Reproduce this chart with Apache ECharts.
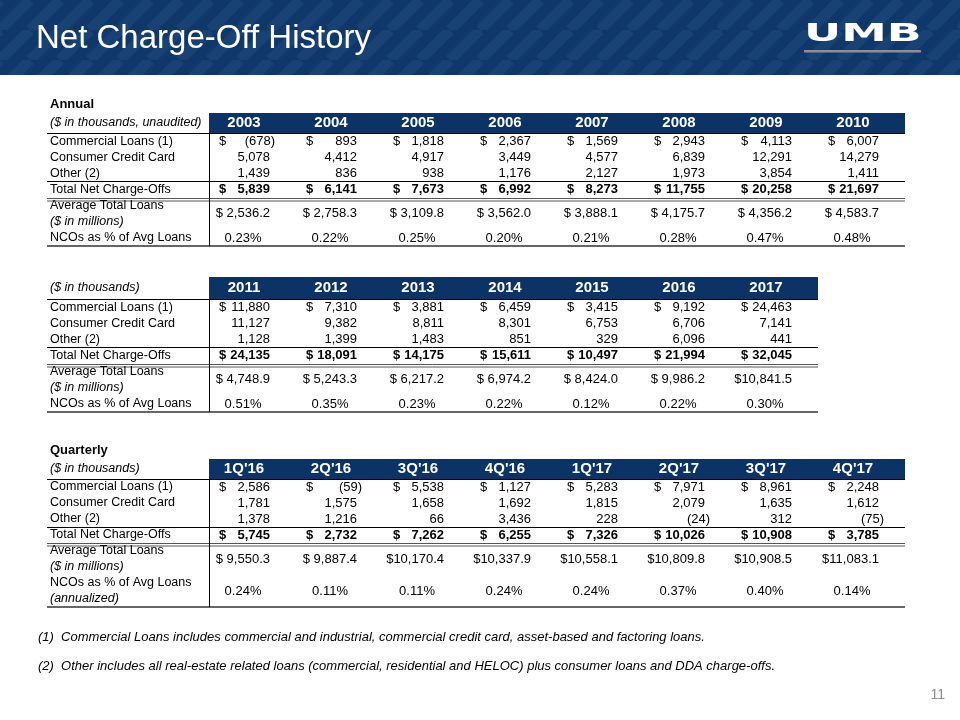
<!DOCTYPE html>
<html><head><meta charset="utf-8">
<script src="https://cdn.jsdelivr.net/npm/echarts@6/dist/echarts.min.js"></script>
<style>html,body{margin:0;padding:0;background:#fff}#c{width:960px;height:720px}</style>
</head><body><div id="c"></div>
<script>
// ---------- DATA ----------
const yearsA = ['2003','2004','2005','2006','2007','2008','2009','2010'];
const commercialA = [-678, 893, 1818, 2367, 1569, 2943, 4113, 6007];
const consumerA = [5078, 4412, 4917, 3449, 4577, 6839, 12291, 14279];
const otherA = [1439, 836, 938, 1176, 2127, 1973, 3854, 1411];
const totalA = [5839, 6141, 7673, 6992, 8273, 11755, 20258, 21697];
const avgLoansA = [2536.2, 2758.3, 3109.8, 3562.0, 3888.1, 4175.7, 4356.2, 4583.7];
const ncoPctA = [0.23, 0.22, 0.25, 0.20, 0.21, 0.28, 0.47, 0.48];

const yearsB = ['2011','2012','2013','2014','2015','2016','2017'];
const commercialB = [11880, 7310, 3881, 6459, 3415, 9192, 24463];
const consumerB = [11127, 9382, 8811, 8301, 6753, 6706, 7141];
const otherB = [1128, 1399, 1483, 851, 329, 6096, 441];
const totalB = [24135, 18091, 14175, 15611, 10497, 21994, 32045];
const avgLoansB = [4748.9, 5243.3, 6217.2, 6974.2, 8424.0, 9986.2, 10841.5];
const ncoPctB = [0.51, 0.35, 0.23, 0.22, 0.12, 0.22, 0.30];

const quarters = ["1Q'16","2Q'16","3Q'16","4Q'16","1Q'17","2Q'17","3Q'17","4Q'17"];
const commercialQ = [2586, -59, 5538, 1127, 5283, 7971, 8961, 2248];
const consumerQ = [1781, 1575, 1658, 1692, 1815, 2079, 1635, 1612];
const otherQ = [1378, 1216, 66, 3436, 228, -24, 312, -75];
const totalQ = [5745, 2732, 7262, 6255, 7326, 10026, 10908, 3785];
const avgLoansQ = [9550.3, 9887.4, 10170.4, 10337.9, 10558.1, 10809.8, 10908.5, 11083.1];
const ncoPctQ = [0.24, 0.11, 0.11, 0.24, 0.24, 0.37, 0.40, 0.14];

const rowLabelsAnnual = ['Commercial Loans (1)','Consumer Credit Card','Other (2)','Total Net Charge-Offs','Average Total Loans','($ in millions)','NCOs as % of Avg Loans'];
const rowLabelsQuarterly = ['Commercial Loans (1)','Consumer Credit Card','Other (2)','Total Net Charge-Offs','Average Total Loans','($ in millions)','NCOs as % of Avg Loans','(annualized)'];

const footnotes = [
  '(1)  Commercial Loans includes commercial and industrial, commercial credit card, asset-based and factoring loans.',
  '(2)  Other includes all real-estate related loans (commercial, residential and HELOC) plus consumer loans and DDA charge-offs.'
];

// ---------- HELPERS ----------
const FONT = '"Liberation Sans", Arial, sans-serif';
const NAVY = '#0b3366';
const LBL = 12.5;
function fmtInt(v){ const s = Math.abs(v).toLocaleString('en-US'); return v < 0 ? '(' + s + ')' : s; }
function fmtAvg(v){ const s = v.toLocaleString('en-US',{minimumFractionDigits:1, maximumFractionDigits:1}); return '$' + (v < 10000 ? ' ' : '') + s; }
function fmtPct(v){ return v.toFixed(2) + '%'; }

function buildCells(n, com, con, oth, tot, avg, pct, avgRows, pctRows){
  const cells = [];
  for (let i = 0; i < n; i++){
    cells.push({col:i, rows:[0], kind:'acct', v:com[i]});
    cells.push({col:i, rows:[1], kind:'num', v:con[i]});
    cells.push({col:i, rows:[2], kind:'num', v:oth[i]});
    cells.push({col:i, rows:[3], kind:'acct', bold:true, v:tot[i]});
    cells.push({col:i, rows:avgRows, kind:'avg', v:avg[i]});
    cells.push({col:i, rows:pctRows, kind:'pct', v:pct[i]});
  }
  return cells;
}

function txt(t, x, y, align, bold){
  return {type:'text', style:{text:t, x:x, y:y, align:align, verticalAlign:'middle',
    fontFamily:FONT, fontSize:13, fontWeight: bold ? 'bold' : 'normal', fill:'#000'}};
}

function cellRenderer(cells){
  return function(params, api){
    const c = cells[params.dataIndex];
    const w = api.size([1, 0])[0];
    let y = 0;
    c.rows.forEach(r => { y += api.coord([c.col, r])[1]; });
    y /= c.rows.length;
    const cx = api.coord([c.col, c.rows[0]])[0];
    const s = cx - w / 2;
    const ch = [];
    if (c.kind === 'acct') ch.push(txt('$', s + w * 0.115, y, 'left', c.bold));
    if (c.kind === 'acct' || c.kind === 'num') ch.push(txt(fmtInt(c.v), s + w * (c.v < 0 ? 0.759 : 0.701), y, 'right', c.bold));
    if (c.kind === 'avg') ch.push(txt(fmtAvg(c.v), s + w * 0.701, y, 'right'));
    if (c.kind === 'pct') ch.push(txt(fmtPct(c.v), s + w * 0.391, y, 'center'));
    return {type:'group', children:ch};
  };
}

function decoRenderer(totalRow, headerH, labelW){
  return function(params, api){
    const cs = params.coordSys;
    const x0 = cs.x - labelW, x1 = cs.x + cs.width;
    const yTop = Math.round(cs.y) + 0.5, yBot = Math.round(cs.y + cs.height);
    const yr = r => api.coord([0, r])[1];
    const bA = Math.round((yr(totalRow - 1) + yr(totalRow)) / 2) + 0.5;
    const bB = Math.round((yr(totalRow) + yr(totalRow + 1)) / 2) + 0.5;
    const vx = Math.round(cs.x) + 0.5;
    const ln = (xa, ya, xb, yb, col, lw) => ({type:'line', shape:{x1:xa, y1:ya, x2:xb, y2:yb}, style:{stroke:col, lineWidth:lw}});
    return {type:'group', children:[
      {type:'rect', shape:{x:cs.x, y:cs.y - headerH, width:cs.width, height:headerH}, style:{fill:NAVY}},
      ln(x0, yTop, x1, yTop, '#000', 1),
      ln(x0, bA, x1, bA, '#000', 1),
      ln(x0, bB, x1, bB, '#555', 1),
      ln(x0, bB + 2.5, x1, bB + 2.5, '#555', 1),
      ln(x0, yBot, x1, yBot, '#666', 2),
      ln(vx, cs.y, vx, yBot, '#000', 1)
    ]};
  };
}

// ---------- LAYOUT ----------
const LABEL_W = 162;
const tables = [
  {cols:yearsA, rows:rowLabelsAnnual, grid:{left:209, right:55, top:133, height:113}, headerH:20,
   cells:buildCells(yearsA.length, commercialA, consumerA, otherA, totalA, avgLoansA, ncoPctA, [4,5], [6])},
  {cols:yearsB, rows:rowLabelsAnnual, grid:{left:209, right:142, top:299, height:113}, headerH:22,
   cells:buildCells(yearsB.length, commercialB, consumerB, otherB, totalB, avgLoansB, ncoPctB, [4,5], [6])},
  {cols:quarters, rows:rowLabelsQuarterly, grid:{left:209, right:55, top:479, height:128}, headerH:20,
   cells:buildCells(quarters.length, commercialQ, consumerQ, otherQ, totalQ, avgLoansQ, ncoPctQ, [4,5], [6,7])}
];

const grids = [], xAxes = [], yAxes = [], series = [];
tables.forEach((t, i) => {
  grids.push(Object.assign({containLabel:false}, t.grid));
  xAxes.push({type:'category', gridIndex:i, data:t.cols, position:'top', z:10,
    axisLine:{show:false}, axisTick:{show:false}, splitLine:{show:false},
    axisLabel:{interval:0, margin: t.headerH / 2 - 7, color:'#fff', fontWeight:'bold', fontSize:15, fontFamily:FONT,
      padding:[0, 17, 0, 0], lineHeight:15}});
  yAxes.push({type:'category', gridIndex:i, data:t.rows, inverse:true, z:10,
    axisLine:{show:false}, axisTick:{show:false}, splitLine:{show:false},
    axisLabel:{interval:0, align:'left', margin:159, fontSize:LBL, fontFamily:FONT, color:'#000',
      formatter: v => v.charAt(0) === '(' ? '{i|' + v + '}' : '{n|' + v + '}',
      rich:{i:{fontStyle:'italic', fontSize:LBL, fontFamily:FONT, color:'#000'}, n:{fontSize:LBL, fontFamily:FONT, color:'#000'}}}});
  series.push({type:'custom', xAxisIndex:i, yAxisIndex:i, clip:false, z:1, silent:true,
    data:[[0,0]], encode:{x:0, y:1}, renderItem:decoRenderer(3, t.headerH, LABEL_W)});
  series.push({type:'custom', xAxisIndex:i, yAxisIndex:i, clip:false, z:3, silent:true,
    data:t.cells.map(c => [c.col, c.rows[0]]), encode:{x:0, y:1}, renderItem:cellRenderer(t.cells)});
});

// title bar stripe pattern
const pc = document.createElement('canvas');
pc.width = 30; pc.height = 30;
const g = pc.getContext('2d');
g.fillStyle = '#10376a'; g.fillRect(0, 0, 30, 30);
g.strokeStyle = '#184174'; g.lineWidth = 11;
[[-30, 30, 0, 0],[0, 30, 30, 0],[30, 30, 60, 0]].forEach(p => { g.beginPath(); g.moveTo(p[0], p[1]); g.lineTo(p[2], p[3]); g.stroke(); });

const T = (text, x, y, opts) => ({type:'text', x:x, y:y, silent:true,
  style:Object.assign({text:text, fontFamily:FONT, fontSize:LBL, fill:'#000', verticalAlign:'middle', align:'left'}, opts || {})});

const graphic = [
  {type:'rect', shape:{x:0, y:0, width:960, height:75}, style:{fill:{image:pc, repeat:'repeat'}}, silent:true},
  T('Net Charge-Off History', 36, 39, {fontSize:33, fill:'#fff'}),
  {type:'text', x:804, y:34, scaleX:1.83, scaleY:1, silent:true,
    style:{text:'UMB', fontFamily:'"DejaVu Sans", sans-serif', fontWeight:'bold', fontSize:25, fill:'#fff', verticalAlign:'middle', align:'left'}},
  {type:'rect', shape:{x:804, y:50, width:117, height:2.5}, style:{fill:'#8a8f99'}, silent:true},
  T('Annual', 50, 104, {fontWeight:'bold', fontSize:13}),
  T('($ in thousands, unaudited)', 50, 123, {fontStyle:'italic'}),
  T('($ in thousands)', 50, 288, {fontStyle:'italic'}),
  T('Quarterly', 50, 450, {fontWeight:'bold', fontSize:13}),
  T('($ in thousands)', 50, 469, {fontStyle:'italic'}),
  T(footnotes[0], 38, 637, {fontStyle:'italic', fontSize:13}),
  T(footnotes[1], 38, 666, {fontStyle:'italic', fontSize:13}),
  T('11', 945, 695, {align:'right', fontSize:14, fill:'#8c8c8c'})
];

const chart = echarts.init(document.getElementById('c'), null, {renderer:'canvas'});
chart.setOption({animation:false, backgroundColor:'#fff', grid:grids, xAxis:xAxes, yAxis:yAxes, series:series, graphic:graphic});
</script>
</body></html>
